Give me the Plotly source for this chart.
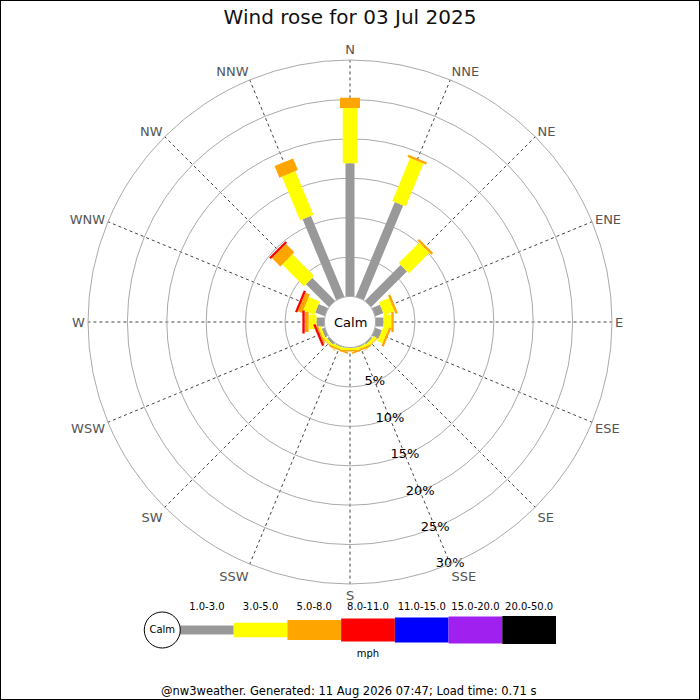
import plotly.graph_objects as go

# ---------------- data ----------------
directions = ["N", "NNE", "NE", "ENE", "E", "ESE", "SE", "SSE",
              "S", "SSW", "SW", "WSW", "W", "WNW", "NW", "NNW"]
dir_angles = [0, 22.5, 45, 67.5, 90, 112.5, 135, 157.5,
              180, 202.5, 225, 247.5, 270, 292.5, 315, 337.5]

speed_classes = ["1.0-3.0", "3.0-5.0", "5.0-8.0", "8.0-11.0",
                 "11.0-15.0", "15.0-20.0", "20.0-50.0"]
class_colors = ["#999999", "#ffff00", "#ffa500", "#ff0000",
                "#0000ff", "#a020f0", "#000000"]

# percent of time per direction for each speed class (mph)
pct_1_3 = [16.9, 13.0, 6.4, 1.1, 1.0, 0.9, 0.2, 0.1,
           0.0, 0.1, 0.3, 0.4, 1.0, 1.3, 4.1, 11.1]
pct_3_5 = [7.0, 5.9, 3.7, 1.4, 1.0, 0.7, 0.4, 0.3,
           0.3, 0.3, 0.3, 0.3, 1.0, 1.5, 3.9, 6.0]
pct_5_8 = [1.3, 0.3, 0.3, 0.3, 0.3, 0.3, 0.1, 0.2,
           0.2, 0.2, 0.1, 0.2, 0.5, 0.6, 1.5, 1.6]
pct_8_11 = [0, 0, 0, 0, 0, 0, 0, 0,
            0, 0, 0, 0.3, 0.3, 0.3, 0.3, 0]
pct_11_15 = [0] * 16
pct_15_20 = [0] * 16
pct_20_50 = [0] * 16

radial_ticks = [5, 10, 15, 20, 25, 30]
radial_tick_labels = ["5%", "10%", "15%", "20%", "25%", "30%"]
radial_label_dir = 157.5

title_text = "Wind rose for 03 Jul 2025"
footer_text = "@nw3weather. Generated: 11 Aug 2026 07:47; Load time: 0.71 s"
units_text = "mph"

# ---------------- styling ----------------
W = H = 700
FONT = "DejaVu Sans"
bar_px = [9, 14.5, 20, 23, 25, 27, 28]

# polar placement (pixels)
cx, cy, R = 350, 322, 262
calm_r = 25.6
pdx = [(cx - R) / W, (cx + R) / W]
pdy = [(H - cy - R) / H, (H - cy + R) / H]

series = [pct_1_3, pct_3_5, pct_5_8, pct_8_11, pct_11_15, pct_15_20, pct_20_50]

fig = go.Figure()

# stacked segments per class
cum = [0.0] * len(directions)
for k, vals in enumerate(series):
    rr, tt = [], []
    for i, v in enumerate(vals):
        if v > 0:
            rr += [cum[i], cum[i] + v, None]
            tt += [dir_angles[i], dir_angles[i], None]
        cum[i] += v
    if rr:
        fig.add_trace(go.Scatterpolar(
            r=rr, theta=tt, mode="lines", connectgaps=False,
            line=dict(color=class_colors[k], width=bar_px[k]),
            hoverinfo="skip", showlegend=False))

# radial percentage labels
fig.add_trace(go.Scatterpolar(
    r=radial_ticks, theta=[radial_label_dir] * len(radial_ticks),
    mode="text", text=radial_tick_labels, textposition="middle center",
    textfont=dict(family=FONT, size=13, color="#000000"),
    hoverinfo="skip", showlegend=False))

# ---------------- legend as a small cartesian strip ----------------
n = len(speed_classes)
for k in range(n):
    fig.add_trace(go.Scatter(
        x=[k, k + 1], y=[0, 0], mode="lines",
        line=dict(color=class_colors[k], width=bar_px[k]),
        xaxis="x", yaxis="y", hoverinfo="skip", showlegend=False))
fig.add_trace(go.Scatter(
    x=[k + 0.5 for k in range(n)], y=[23] * n, mode="text",
    text=speed_classes, textposition="middle center",
    textfont=dict(family=FONT, size=10, color="#000000"),
    xaxis="x", yaxis="y", hoverinfo="skip", showlegend=False))
fig.add_trace(go.Scatter(
    x=[-0.33], y=[0], mode="markers+text", text=["Calm"],
    textposition="middle center",
    textfont=dict(family=FONT, size=10, color="#000000"),
    marker=dict(size=36, color="white", line=dict(color="black", width=1)),
    xaxis="x", yaxis="y", hoverinfo="skip", showlegend=False, cliponaxis=False))
fig.add_trace(go.Scatter(
    x=[n / 2], y=[-24], mode="text", text=[units_text],
    textposition="middle center",
    textfont=dict(family=FONT, size=10, color="#000000"),
    xaxis="x", yaxis="y", hoverinfo="skip", showlegend=False))

fig.update_layout(
    width=W, height=H,
    margin=dict(l=0, r=0, t=0, b=0),
    paper_bgcolor="white", plot_bgcolor="white",
    font=dict(family=FONT, color="#000000"),
    hovermode=False,
    title=dict(text=title_text, x=0.5, xanchor="center",
               y=1 - 17 / H, yanchor="middle",
               font=dict(family=FONT, size=20, color="#111111")),
    polar=dict(
        domain=dict(x=pdx, y=pdy),
        hole=calm_r / R,
        bgcolor="white",
        radialaxis=dict(range=[0, 30], tickvals=radial_ticks,
                        showticklabels=False, ticks="", showline=False,
                        gridcolor="#aaaaaa", gridwidth=1),
        angularaxis=dict(rotation=90, direction="clockwise",
                         tickmode="array", tickvals=dir_angles,
                         ticktext=directions, ticks="",
                         tickfont=dict(family=FONT, size=13, color="#555555"),
                         showline=True, linecolor="#aaaaaa", linewidth=1,
                         gridcolor="#444444", griddash="dot", gridwidth=1),
    ),
    xaxis=dict(domain=[144 / W, 556 / W], range=[-0.67, 7],
               visible=False, fixedrange=True),
    yaxis=dict(domain=[40 / H, 100 / H], range=[-30, 30],
               visible=False, fixedrange=True),
    shapes=[dict(type="rect", xref="paper", yref="paper",
                 x0=0, x1=1, y0=0, y1=1,
                 line=dict(color="black", width=2))],
    annotations=[
        dict(text="Calm", x=0.5, y=(pdy[0] + pdy[1]) / 2,
             xref="paper", yref="paper", showarrow=False,
             font=dict(family=FONT, size=13, color="#000000")),
        dict(text=footer_text, x=348 / W, y=1 - 691 / H,
             xref="paper", yref="paper", showarrow=False,
             xanchor="center", yanchor="middle",
             font=dict(family=FONT, size=11.5, color="#000000")),
    ],
)

fig.write_html(
    "out.html",
    config={"displayModeBar": False, "staticPlot": True},
    post_script="document.body.style.margin='0';"
                "document.body.style.padding='0';"
                "document.body.style.overflow='hidden';",
)
